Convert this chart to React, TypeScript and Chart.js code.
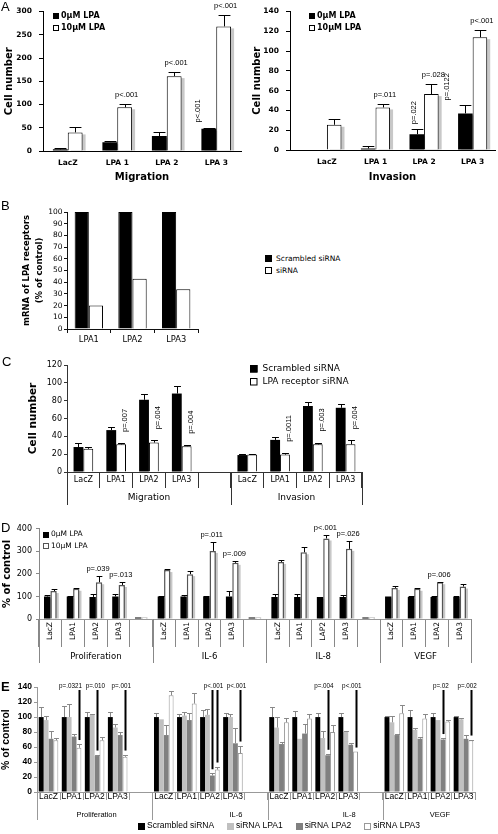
import React, { useEffect, useRef } from 'react';
import { Chart, registerables } from 'chart.js';

Chart.register(...registerables);

const VERD = '"DejaVu Sans", Verdana, sans-serif';
const ARIAL = '"Liberation Sans", Arial, sans-serif';

// ---------------- Panel A ----------------
const aCategories = ['LacZ', 'LPA 1', 'LPA 2', 'LPA 3'];
const aSeries = ['0µM LPA', '10µM LPA'];
const aMigration0 = [3.5, 19, 32, 48];
const aMigration0Err = [2.5, 3, 8, 2.5];
const aMigration10 = [40, 94, 161, 268];
const aMigration10Err = [12, 7, 9, 25];
const aInvasion0 = [0, 1.6, 16, 37];
const aInvasion0Err = [0, 2.5, 5, 8];
const aInvasion10 = [25.5, 43, 56.5, 114];
const aInvasion10Err = [5.5, 3.5, 10.5, 7];
const aMigrationP = [
  { cat: 1, ds: 1, text: 'p<.001' },
  { cat: 2, ds: 1, text: 'p<.001' },
  { cat: 3, ds: 1, text: 'p<.001' },
  { cat: 3, ds: 0, text: 'p<.001', rot: true, dx: -11 },
];
const aInvasionP = [
  { cat: 1, ds: 1, text: 'p=.011' },
  { cat: 2, ds: 1, text: 'p=.028' },
  { cat: 3, ds: 1, text: 'p<.001' },
  { cat: 2, ds: 0, text: 'p=.022', rot: true, dx: -3 },
  { cat: 3, ds: 0, text: 'p=.0122', rot: true, dx: -18 },
];

// ---------------- Panel B ----------------
const bCategories = ['LPA1', 'LPA2', 'LPA3'];
const bSeries = ['Scrambled siRNA', 'siRNA'];
const bScrambled = [100, 100, 100];
const bSirna = [20, 43, 34];

// ---------------- Panel C ----------------
const cCategories = ['LacZ', 'LPA1', 'LPA2', 'LPA3', '', 'LacZ', 'LPA1', 'LPA2', 'LPA3'];
const cGroups = ['Migration', 'Invasion'];
const cSeries = ['Scrambled siRNA', 'LPA receptor siRNA'];
const cScrambled = [28, 47, 81, 88, null, 19, 36, 74, 72];
const cScrambledErr = [5, 3.5, 7, 8, null, 1.5, 3, 5, 4.5];
const cReceptor = [26, 31, 33, 29, null, 19.5, 19.5, 31, 31];
const cReceptorErr = [2, 1.5, 2.5, 1.5, null, 1, 2, 2, 4.5];
const cP = [
  { cat: 1, ds: 1, text: 'p=.007', rot: true },
  { cat: 2, ds: 1, text: 'p=.004', rot: true },
  { cat: 3, ds: 1, text: 'p=.004', rot: true },
  { cat: 6, ds: 1, text: 'p=.0011', rot: true },
  { cat: 7, ds: 1, text: 'p=.003', rot: true },
  { cat: 8, ds: 1, text: 'p=.004', rot: true },
];

// ---------------- Panel D ----------------
const dCategories = ['LacZ', 'LPA1', 'LPA2', 'LPA3', '', 'LacZ', 'LPA1', 'LPA2', 'LPA3', '', 'LacZ', 'LPA1', 'LAP2', 'LPA3', '', 'LacZ', 'LPA1', 'LPA2', 'LPA3'];
const dGroups = ['Proliferation', 'IL-6', 'IL-8', 'VEGF'];
const dSeries = ['0µM LPA', '10µM LPA'];
const d0 = [100, 100, 98, 100, 0, 100, 100, 100, 100, 0, 98, 98, 98, 98, 0, 100, 98, 98, 98];
const d0Err = [5, 3, 11, 12, 0, 3, 8, 3, 24, 0, 11, 14, 0, 10, 0, 0, 5, 5, 5];
const d10 = [124, 134, 163, 151, 0, 217, 199, 302, 249, 0, 253, 296, 357, 311, 0, 138, 134, 163, 144];
const d10Err = [7, 4, 28, 12, 0, 3, 14, 38, 10, 0, 7, 25, 14, 36, 0, 7, 4, 2, 11];
const dP = [
  { cat: 2, ds: 1, text: 'p=.039' },
  { cat: 3, ds: 1, text: 'p=.013' },
  { cat: 7, ds: 1, text: 'p=.011' },
  { cat: 8, ds: 1, text: 'p=.009' },
  { cat: 12, ds: 1, text: 'p<.001' },
  { cat: 13, ds: 1, text: 'p=.026' },
  { cat: 17, ds: 1, text: 'p=.006' },
];

// ---------------- Panel E ----------------
const eCategories = ['LacZ', 'LPA1', 'LPA2', 'LPA3', '', 'LacZ', 'LPA1', 'LPA2', 'LPA3', '', 'LacZ', 'LPA1', 'LPA2', 'LPA3', '', 'LacZ', 'LPA1', 'LPA2', 'LPA3'];
const eGroups = ['Proliferation', 'IL-6', 'IL-8', 'VEGF'];
const eSeries = ['Scrambled siRNA', 'siRNA LPA1', 'siRNA LPA2', 'siRNA LPA3'];
const eScrambled = [100, 100, 100, 100, null, 100, 100, 100, 100, null, 100, 100, 100, 100, null, 100, 100, 100, 100];
const eScrambledErr = [13, 15, 7, 7, null, 5, 4, 10, 5, null, 14, 8, 5, 5, null, 1, 10, 5, 1];
const eLpa1 = [96, 100, 103, 86, null, 97, 102, 103, 100, null, 86, 71, 72, 80, null, 93, 83, 96, 97];
const eLpa1Err = [5, 18, 1, 5, null, 0, 5, 8, 4, null, 14, 0, 10, 2, null, 9, 2, 0, 2];
const eLpa2 = [71, 74, 48, 76, null, 76, 96, 22, 65, null, 64, 78, 49, 63, null, 76, 71, 70, 71];
const eLpa2Err = [10, 3, 2, 4, null, 14, 10, 3, 21, null, 3, 13, 2, 3, null, 2, 2, 2, 5];
const eLpa3 = [69, 59, 69, 47, null, 129, 118, 30, 52, null, 93, 98, 80, 54, null, 105, 98, 94, 69];
const eLpa3Err = [3, 5, 4, 3, null, 6, 14, 4, 10, null, 6, 6, 10, 0, null, 11, 6, 2, 1];
const eP = [
  { cat: 1, ds: 3, text: 'p=.0321', tdx: 3 },
  { cat: 2, ds: 2, text: 'p=.010', tdx: 8 },
  { cat: 3, ds: 3, text: 'p=.001' },
  { cat: 7, ds: 2, text: '' },
  { cat: 7, ds: 3, text: 'p<.001' },
  { cat: 8, ds: 3, text: 'p<.001' },
  { cat: 12, ds: 2, text: 'p=.004' },
  { cat: 13, ds: 3, text: 'p<.001' },
  { cat: 17, ds: 2, text: 'p=.02' },
  { cat: 18, ds: 3, text: 'p=.002' },
];

// ---------------- helpers & plugins ----------------
const fnt = (family: string, size: number, weight: any = 'normal') => ({ family, size, weight, lineHeight: 1.2 });
const css = (family: string, size: number, weight = 'normal') => `${weight} ${size}px ${family}`;
const fitY = (w: number) => (s: any) => { s.width = w; };
const fitX = (h: number) => (s: any) => { s.height = h; };

const errorBarsPlugin = {
  id: 'errorBars',
  afterDatasetsDraw(chart: any, _a: any, o: any) {
    const ctx = chart.ctx;
    const ys = chart.scales.y;
    chart.data.datasets.forEach((ds: any, di: number) => {
      if (!ds.errors) return;
      const meta = chart.getDatasetMeta(di);
      meta.data.forEach((bar: any, i: number) => {
        const v = ds.data[i];
        const e = ds.errors[i];
        if (v == null || !e) return;
        const y0 = ys.getPixelForValue(v);
        const y1 = Math.round(ys.getPixelForValue(v + e)) + 0.5;
        const half = Math.max(1.5, bar.width * (o.cap ?? 0.3));
        const x = Math.round(bar.x) + 0.5;
        ctx.save();
        ctx.strokeStyle = o.color || '#000';
        ctx.lineWidth = o.width ?? 1;
        ctx.beginPath();
        ctx.moveTo(x, y0);
        ctx.lineTo(x, y1);
        ctx.moveTo(x - half, y1);
        ctx.lineTo(x + half, y1);
        ctx.stroke();
        ctx.restore();
      });
    });
  },
};

const shadowPlugin = {
  id: 'barShadow',
  beforeDatasetsDraw(chart: any, _a: any, o: any) {
    if (!o || !o.color) return;
    const ctx = chart.ctx;
    ctx.save();
    ctx.fillStyle = o.color;
    chart.data.datasets.forEach((_ds: any, di: number) => {
      chart.getDatasetMeta(di).data.forEach((b: any) => {
        const h = b.base - b.y;
        if (!(h > 2)) return;
        ctx.fillRect(b.x - b.width / 2 + o.dx, b.y + o.dy, b.width, h - o.dy);
      });
    });
    ctx.restore();
  },
};

const pValuePlugin = {
  id: 'pValues',
  afterDatasetsDraw(chart: any, _a: any, o: any) {
    if (!o || !o.items) return;
    const ctx = chart.ctx;
    const ys = chart.scales.y;
    ctx.save();
    ctx.fillStyle = '#000';
    ctx.strokeStyle = '#000';
    ctx.font = o.font;
    o.items.forEach((it: any) => {
      const ds = chart.data.datasets[it.ds];
      const bar = chart.getDatasetMeta(it.ds).data[it.cat];
      if (!bar) return;
      const v = ds.data[it.cat] ?? 0;
      const e = ds.errors ? ds.errors[it.cat] ?? 0 : 0;
      const top = ys.getPixelForValue(v + e);
      const x = bar.x + (it.dx ?? o.dx ?? 0);
      if (o.lines) {
        const lx = Math.round(bar.x) + 0.5;
        ctx.lineWidth = o.lineWidth;
        ctx.beginPath();
        ctx.moveTo(lx, o.lineTop);
        ctx.lineTo(lx, top - o.gap);
        ctx.stroke();
        if (it.text) {
          ctx.textAlign = 'right';
          ctx.textBaseline = 'middle';
          ctx.fillText(it.text, bar.x + (it.tdx ?? o.textDx), o.textY);
        }
      } else if (it.rot) {
        ctx.save();
        ctx.translate(x, top - o.rotGap);
        ctx.rotate(-Math.PI / 2);
        ctx.textAlign = 'left';
        ctx.textBaseline = 'middle';
        ctx.fillText(it.text, 0, 0);
        ctx.restore();
      } else {
        ctx.textAlign = 'center';
        ctx.textBaseline = 'alphabetic';
        ctx.fillText(it.text, x, top - o.gap);
      }
    });
    ctx.restore();
  },
};

const boxLegendPlugin = {
  id: 'boxLegend',
  afterDraw(chart: any, _a: any, o: any) {
    if (!o || o.x == null) return;
    const ctx = chart.ctx;
    ctx.save();
    ctx.font = o.font;
    ctx.textBaseline = 'middle';
    ctx.textAlign = 'left';
    let x = o.x;
    let y = o.y;
    chart.data.datasets.forEach((ds: any) => {
      const bx = Math.round(x);
      const by = Math.round(y - o.box / 2);
      ctx.fillStyle = ds.backgroundColor;
      ctx.fillRect(bx, by, o.box, o.box);
      ctx.strokeStyle = ds.borderWidth ? ds.borderColor : ds.backgroundColor;
      ctx.lineWidth = 1;
      ctx.strokeRect(bx + 0.5, by + 0.5, o.box - 1, o.box - 1);
      ctx.fillStyle = o.color || '#000';
      ctx.fillText(ds.label, x + o.box + o.gap, y);
      if (o.horizontal) x += o.box + o.gap + ctx.measureText(ds.label).width + o.spacing;
      else y += o.dy;
    });
    ctx.restore();
  },
};

const groupAxisPlugin = {
  id: 'groupAxis',
  afterDraw(chart: any, _a: any, o: any) {
    if (!o || !o.groups) return;
    const xs = chart.scales.x;
    const ctx = chart.ctx;
    const labels: string[] = chart.data.labels;
    const n = labels.length;
    const slot = (xs.right - xs.left) / n;
    const starts = [0];
    labels.forEach((l, i) => { if (l === '' && i + 1 < n) starts.push(i + 1); });
    const bottom = chart.chartArea.bottom;
    ctx.save();
    ctx.strokeStyle = o.lineColor;
    ctx.lineWidth = 1;
    ctx.beginPath();
    const xsPix = starts.map((s) => Math.round(xs.left + s * slot) + 0.5);
    if (o.closeEnd) xsPix.push(Math.round(xs.right) + 0.5);
    xsPix.forEach((px) => { ctx.moveTo(px, bottom); ctx.lineTo(px, o.lineTo); });
    ctx.stroke();
    ctx.font = o.font;
    ctx.fillStyle = o.color || '#000';
    ctx.textAlign = 'center';
    ctx.textBaseline = 'middle';
    o.groups.forEach((g: string, k: number) => {
      const a = starts[k];
      const b = k + 1 < starts.length ? starts[k + 1] : n;
      const off = o.labelOffsets ? o.labelOffsets[k] : 0;
      ctx.fillText(g, xs.left + ((a + b) / 2) * slot + off, o.labelY);
    });
    ctx.restore();
  },
};

const allPlugins = [shadowPlugin, errorBarsPlugin, pValuePlugin, boxLegendPlugin, groupAxisPlugin];

function common(padding: any, plugins: any) {
  return {
    responsive: false,
    animation: false,
    devicePixelRatio: 1,
    events: [],
    layout: { padding },
    plugins: { legend: { display: false }, tooltip: { enabled: false }, title: { display: false }, ...plugins },
  };
}

// ---------------- chart factories ----------------
function makeA(kind: 'mig' | 'inv') {
  const mig = kind === 'mig';
  const d0 = mig ? aMigration0 : aInvasion0;
  const e0 = mig ? aMigration0Err : aInvasion0Err;
  const d1 = mig ? aMigration10 : aInvasion10;
  const e1 = mig ? aMigration10Err : aInvasion10Err;
  const tickFont = fnt(VERD, 7.5, 'bold');
  const titleFont = fnt(VERD, 10, 'bold');
  const x: any = mig
    ? { type: 'category', offset: true, grid: { display: true, drawOnChartArea: false, drawTicks: false, offset: true } }
    : {
        type: 'linear', min: -0.76, max: 3.46, offset: false,
        grid: { display: true, drawOnChartArea: false, drawTicks: false, offset: false },
        afterBuildTicks: (s: any) => { s.ticks = aCategories.map((_, i) => ({ value: i })); },
      };
  Object.assign(x, {
    border: { color: '#000', width: 1 },
    ticks: { font: tickFont, color: '#000', padding: 8, autoSkip: false, maxRotation: 0, minRotation: 0,
      ...(mig ? {} : { callback: (v: any) => aCategories[v] ?? '' }) },
    title: { display: true, text: mig ? 'Migration' : 'Invasion', font: titleFont, color: '#000', padding: { top: 0, bottom: 12 } },
    afterFit: fitX(mig ? 44 : 45),
  });
  return {
    type: 'bar',
    data: {
      labels: mig ? aCategories : aCategories.map((_, i) => i),
      datasets: [
        { label: aSeries[0], data: d0, errors: e0, backgroundColor: '#000', borderColor: '#000', borderWidth: 0, categoryPercentage: 0.6, barPercentage: 1 },
        { label: aSeries[1], data: d1, errors: e1, backgroundColor: '#fff', borderColor: '#000', borderWidth: 1, categoryPercentage: 0.6, barPercentage: 1 },
      ],
    },
    options: {
      ...common(mig ? { left: 0, right: 7, top: 8, bottom: 0 } : { left: 0, right: 3, top: 7, bottom: 0 }, {
        barShadow: { color: '#c8c8c8', dx: 3, dy: 2 },
        errorBars: { color: '#000', cap: 0.4 },
        pValues: { items: mig ? aMigrationP : aInvasionP, font: css(ARIAL, 7.5), gap: 7, dx: 2, rotGap: 5 },
        boxLegend: { x: mig ? 53 : 61, y: 15.5, dy: 12, box: 6, gap: 2, font: css(VERD, 8, 'bold') },
      }),
      scales: {
        x,
        y: {
          min: 0, max: mig ? 300 : 140,
          ticks: { stepSize: mig ? 50 : 20, font: tickFont, color: '#000', padding: 7 },
          grid: { drawOnChartArea: false, drawTicks: true, tickLength: 4, color: '#000' },
          border: { color: '#000', width: 1 },
          title: { display: true, text: 'Cell number', font: titleFont, color: '#000', padding: { top: 3, bottom: 0 } },
          afterFit: fitY(mig ? 43 : 42),
        },
      },
    },
    plugins: allPlugins,
  };
}

function makeB() {
  return {
    type: 'bar',
    data: {
      labels: bCategories,
      datasets: [
        { label: bSeries[0], data: bScrambled, backgroundColor: '#000', borderColor: '#000', borderWidth: 1, categoryPercentage: 0.65, barPercentage: 1 },
        { label: bSeries[1], data: bSirna, backgroundColor: '#fff', borderColor: '#000', borderWidth: 1, categoryPercentage: 0.65, barPercentage: 1 },
      ],
    },
    options: {
      ...common({ left: 0, right: 7, top: 17, bottom: 0 }, {}),
      scales: {
        x: {
          type: 'category',
          offset: true,
          grid: { display: true, drawOnChartArea: false, drawTicks: true, tickLength: 4, color: '#111', lineWidth: 1, offset: true },
          border: { display: true, color: '#111', width: 1 },
          ticks: { font: fnt(VERD, 8.3), color: '#000', padding: 2, autoSkip: false, maxRotation: 0, minRotation: 0 },
          afterFit: fitX(16),
        },
        y: {
          type: 'linear',
          min: 0, max: 100,
          ticks: { stepSize: 10, font: fnt(VERD, 7.5), color: '#000', padding: 1.5, autoSkip: false },
          grid: { display: true, drawOnChartArea: false, drawTicks: true, tickLength: 3, color: '#111', lineWidth: 1 },
          border: { display: true, color: '#111', width: 1 },
          title: { display: true, text: ['mRNA of LPA receptors', '(% of control)'], font: { family: VERD, size: 8.5, weight: 'bold', lineHeight: 1.5 }, color: '#000', padding: { top: 20.5, bottom: 0 } },
          afterFit: fitY(67),
        },
      },
    },
    plugins: allPlugins,
  };
}

function makeC() {
  return {
    type: 'bar',
    data: {
      labels: cCategories,
      datasets: [
        { label: cSeries[0], data: cScrambled, errors: cScrambledErr, backgroundColor: '#000', borderColor: '#000', borderWidth: 0, categoryPercentage: 0.6, barPercentage: 1 },
        { label: cSeries[1], data: cReceptor, errors: cReceptorErr, backgroundColor: '#fff', borderColor: '#000', borderWidth: 1, categoryPercentage: 0.6, barPercentage: 1 },
      ],
    },
    options: {
      ...common({ left: 0, right: 136, top: 20, bottom: 0 }, {
        errorBars: { color: '#000', cap: 0.35 },
        pValues: { items: cP, font: css(ARIAL, 7.5), dx: 4, rotGap: 11, gap: 6 },
        boxLegend: { x: 250, y: 23.5, dy: 13, box: 7.5, gap: 5, font: css(VERD, 9) },
        groupAxis: { groups: cGroups, lineColor: '#333', lineTo: 160, closeEnd: true, labelY: 153, font: css(VERD, 9) },
      }),
      scales: {
        x: {
          offset: true,
          grid: { display: true, drawOnChartArea: false, drawTicks: true, tickLength: 16, color: '#333', offset: true },
          border: { color: '#333' },
          ticks: { font: fnt(VERD, 8), color: '#000', padding: -12.8, autoSkip: false, maxRotation: 0, minRotation: 0 },
          afterFit: fitX(38),
        },
        y: {
          min: 0, max: 120,
          ticks: { stepSize: 20, font: fnt(VERD, 8), color: '#000', padding: 2 },
          grid: { drawOnChartArea: false, drawTicks: true, tickLength: 3, color: '#333' },
          border: { color: '#333' },
          title: { display: true, text: 'Cell number', font: fnt(VERD, 10.5, 'bold'), color: '#000', padding: { top: 26.5, bottom: 0 } },
          afterFit: fitY(67),
        },
      },
    },
    plugins: allPlugins,
  };
}

function makeD() {
  return {
    type: 'bar',
    data: {
      labels: dCategories,
      datasets: [
        { label: dSeries[0], data: d0, errors: d0Err, backgroundColor: '#000', borderColor: '#000', borderWidth: 0, minBarLength: 1.5, categoryPercentage: 0.56, barPercentage: 1 },
        { label: dSeries[1], data: d10, errors: d10Err, backgroundColor: '#fff', borderColor: '#555', borderWidth: 1.5, minBarLength: 1.5, categoryPercentage: 0.56, barPercentage: 1 },
      ],
    },
    options: {
      ...common({ left: 0, right: 27, top: 7, bottom: 0 }, {
        barShadow: { color: '#c8c8c8', dx: 2, dy: 2 },
        errorBars: { color: '#000', cap: 0.45 },
        pValues: { items: dP, font: css(ARIAL, 7.5), gap: 5, dx: -1 },
        boxLegend: { x: 43, y: 14.5, dy: 11.5, box: 6, gap: 2, font: css(VERD, 7.5) },
        groupAxis: { groups: dGroups, lineColor: '#888', lineTo: 143, closeEnd: true, labelY: 136.5, font: css(VERD, 8.5) },
      }),
      scales: {
        x: {
          offset: true,
          grid: { display: true, drawOnChartArea: false, drawTicks: true, tickLength: 28, color: '#888', offset: true },
          border: { color: '#999' },
          ticks: { font: fnt(VERD, 7.5), color: '#000', padding: -25, autoSkip: false, maxRotation: 90, minRotation: 90 },
          afterFit: fitX(61),
        },
        y: {
          min: 0, max: 400,
          ticks: { stepSize: 50, font: fnt(VERD, 8), color: '#000', padding: 4 },
          grid: { drawOnChartArea: false, drawTicks: true, tickLength: 3, color: '#888' },
          border: { color: '#888' },
          title: { display: true, text: '% of control', font: fnt(VERD, 10, 'bold'), color: '#000', padding: { top: 1, bottom: 0 } },
          afterFit: fitY(39),
        },
      },
    },
    plugins: allPlugins,
  };
}

function makeE() {
  const ds = (label: string, data: any, errors: any, bg: string, border: string, bw: number) => ({
    label, data, errors, backgroundColor: bg, borderColor: border, borderWidth: bw, categoryPercentage: 0.85, barPercentage: 1,
  });
  return {
    type: 'bar',
    data: {
      labels: eCategories,
      datasets: [
        ds(eSeries[0], eScrambled, eScrambledErr, '#000', '#000', 0),
        ds(eSeries[1], eLpa1, eLpa1Err, '#c0c0c0', '#c0c0c0', 0),
        ds(eSeries[2], eLpa2, eLpa2Err, '#808080', '#808080', 0),
        ds(eSeries[3], eLpa3, eLpa3Err, '#fff', '#999', 1),
      ],
    },
    options: {
      ...common({ left: 0, right: 23, top: 6, bottom: 0 }, {
        errorBars: { color: '#888', cap: 0.5 },
        pValues: { items: eP, font: css(ARIAL, 6.3), lines: true, lineWidth: 2, lineTop: 10, gap: 4, textY: 6.5, textDx: 6 },
        boxLegend: { x: 138, y: 146, horizontal: true, box: 7, gap: 2, spacing: 13, font: css(ARIAL, 8.5) },
        groupAxis: { groups: eGroups, lineColor: '#999', lineTo: 140, closeEnd: false, labelY: 135, font: css(ARIAL, 7.5), labelOffsets: [2, 26, 24, 11] },
      }),
      scales: {
        x: {
          offset: true,
          grid: { display: true, drawOnChartArea: false, drawTicks: true, tickLength: 8, color: '#999', offset: true },
          border: { color: '#999' },
          ticks: { font: fnt(ARIAL, 8.5), color: '#000', padding: -8, autoSkip: false, maxRotation: 0, minRotation: 0 },
          afterFit: fitX(42),
        },
        y: {
          min: 0, max: 140,
          ticks: { stepSize: 20, font: fnt(ARIAL, 8.5, 'bold'), color: '#000', padding: 2 },
          grid: { drawOnChartArea: false, drawTicks: true, tickLength: 3, color: '#999' },
          border: { color: '#999' },
          title: { display: true, text: '% of control', font: fnt(ARIAL, 10.5, 'bold'), color: '#000', padding: { top: 0, bottom: 0 } },
          afterFit: fitY(37),
        },
      },
    },
    plugins: allPlugins,
  };
}

// ---------------- components ----------------
function ChartBox(props: { left: number; top: number; width: number; height: number; make: () => any }) {
  const ref = useRef<HTMLCanvasElement>(null);
  useEffect(() => {
    const chart = new Chart(ref.current as HTMLCanvasElement, props.make());
    return () => chart.destroy();
  }, []);
  return (
    <canvas
      ref={ref}
      width={props.width}
      height={props.height}
      style={{ position: 'absolute', left: props.left, top: props.top, width: props.width, height: props.height }}
    />
  );
}

function BLegend() {
  const fills = ['#000', '#fff'];
  return (
    <div style={{ position: 'absolute', left: 265, top: 252, font: `7.5px ${VERD}`, color: '#000' }}>
      {bSeries.map((s, i) => (
        <div key={s} style={{ display: 'flex', alignItems: 'center', height: 12.5 }}>
          <span style={{ display: 'inline-block', width: 5, height: 5, background: fills[i], border: '1px solid #000', marginRight: 4 }} />
          <span style={{ lineHeight: '9px' }}>{s}</span>
        </div>
      ))}
    </div>
  );
}

const letter = (left: number, top: number, bold = false): React.CSSProperties => ({
  position: 'absolute', left, top, font: `${bold ? 'bold ' : ''}13px "Liberation Sans", Arial, sans-serif`, lineHeight: '13px', color: '#000',
});

export default function App() {
  return (
    <div style={{ position: 'absolute', left: 0, top: 0, width: 498, height: 834, background: '#fff', overflow: 'hidden' }}>
      <ChartBox left={0} top={0} width={248} height={195} make={() => makeA('mig')} />
      <ChartBox left={248} top={0} width={250} height={195} make={() => makeA('inv')} />
      <ChartBox left={0} top={195} width={205} height={150} make={makeB} />
      <BLegend />
      <ChartBox left={0} top={345} width={498} height={165} make={makeC} />
      <ChartBox left={0} top={520} width={498} height={160} make={makeD} />
      <ChartBox left={0} top={680} width={498} height={154} make={makeE} />
      <div style={letter(1, 0)}>A</div>
      <div style={letter(1, 199)}>B</div>
      <div style={letter(2, 355)}>C</div>
      <div style={letter(1, 521)}>D</div>
      <div style={letter(1, 680, true)}>E</div>
    </div>
  );
}
